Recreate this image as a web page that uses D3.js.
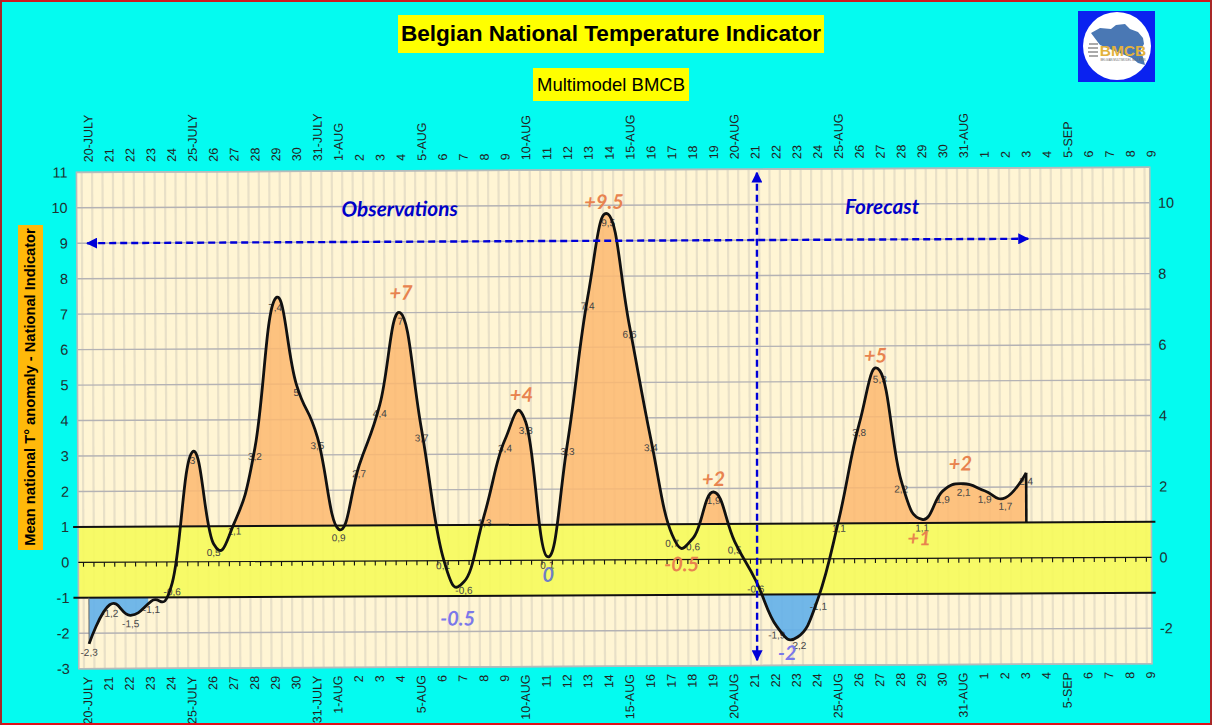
<!DOCTYPE html>
<html>
<head>
<meta charset="utf-8">
<script src="https://cdn.jsdelivr.net/npm/d3@7"></script>
<style>
  html, body { margin: 0; padding: 0; background: #04fbf0; }
  svg { display: block; font-family: "Liberation Sans", Arial, sans-serif; }
</style>
</head>
<body>
<svg id="chart"></svg>
<script>
const dayLabels = ["20-JULY","21","22","23","24","25-JULY","26","27","28","29","30","31-JULY",
  "1-AUG","2","3","4","5-AUG","6","7","8","9","10-AUG","11","12","13","14","15-AUG","16","17","18","19","20-AUG",
  "21","22","23","24","25-AUG","26","27","28","29","30","31-AUG","1","2","3","4","5-SEP","6","7","8","9"];

// daily indicator, 20 July to 3 Sept
const anomaly = [-2.3,-1.2,-1.5,-1.1,-0.6,3.1,0.5,1.1,3.2,7.4,5,3.5,0.9,2.7,4.4,7,3.7,0.1,-0.6,1.3,3.4,3.9,0.1,
  3.3,7.4,9.75,6.6,3.4,0.7,0.6,1.9,0.5,-0.6,-1.9,-2.2,-1.1,1.1,3.8,5.3,2.2,1.1,1.9,2.1,1.9,1.7,2.4];
const pointLabels = ["-2,3","-1,2","-1,5","-1,1","-0,6","3","0,5","1,1","3,2","7,4","5","3,5","0,9","2,7","4,4","7","3,7","0,1","-0,6","1,3","3,4","3,8","0,1",
  "3,3","7,4","9,5","6,6","3,4","0,7","0,6","1,9","0,5","-0,6","-1,9","-2,2","-1,1","1,1","3,8","5,3","2,2","1,1","1,9","2,1","1,9","1,7","2,4"];

const leftTicks = d3.range(-3, 12);
const rightTicks = [-2, 0, 2, 4, 6, 8, 10];

const noteDays = [24.81, 15.05, 20.8, 30, 37.8, 41.85, 39.85, 28.45, 17.69, 22.05, 33.5];
const noteValues = [9.9, 7.36, 4.47, 2.07, 5.53, 2.47, 0.37, -0.33, -1.83, -0.61, -2.85];
const noteTexts = ["+9.5","+7","+4","+2","+5","+2","+1","-0.5","-0.5","0","-2"];
const noteColors = ["#e8834f","#e8834f","#e8834f","#e8834f","#e8834f","#e8834f","#e8834f","#e8834f","#7b78ea","#6f7fc4","#7b78ea"];

const width = 1212;
const height = 725;
const tilt = -0.27; // the whole plot leans slightly

const x = d3.scaleLinear().domain([-0.5, 51]).range([77.6, 1150.9]);
const y = d3.scaleLinear().domain([-3, 11]).range([666.2, 169.8]);

const svg = d3.select("#chart").attr("width", width).attr("height", height);

svg.append("rect").attr("width", width).attr("height", height).attr("fill", "#04fbf0");

const plot = svg.append("g").attr("transform", `rotate(${tilt} 615 415)`);
const defs = svg.append("defs");

// clips for the filled parts
defs.append("clipPath").attr("id", "above")
  .append("rect").attr("x", x(-0.5)).attr("width", x(51) - x(-0.5))
  .attr("y", y(11)).attr("height", y(1) - y(11));
defs.append("clipPath").attr("id", "below")
  .append("rect").attr("x", x(-0.5)).attr("width", x(2.85) - x(-0.5))
  .attr("y", y(-1)).attr("height", y(-3) - y(-1));
defs.append("clipPath").attr("id", "below2")
  .append("rect").attr("x", x(30)).attr("width", x(38) - x(30))
  .attr("y", y(-1)).attr("height", y(-3) - y(-1));

plot.append("rect")
  .attr("x", x(-0.5)).attr("y", y(11))
  .attr("width", x(51) - x(-0.5)).attr("height", y(-3) - y(11))
  .attr("fill", "#fff5d4");

// vertical grid
plot.append("g").selectAll("line")
  .data(d3.range(-0.25, 51, 0.5))
  .join("line")
  .attr("x1", (d) => x(d)).attr("x2", (d) => x(d))
  .attr("y1", y(11)).attr("y2", y(-3))
  .attr("stroke", "#cfc9bb").attr("stroke-opacity", 0.48).attr("stroke-width", 2.2);

// yellow band
plot.append("rect")
  .attr("x", x(-0.5)).attr("y", y(1))
  .attr("width", x(51) - x(-0.5)).attr("height", y(-1) - y(1))
  .attr("fill", "#f6fb58").attr("fill-opacity", 0.88);

// horizontal grid
plot.append("g").selectAll("line")
  .data(leftTicks.filter((d) => d !== 0 && Math.abs(d) !== 1))
  .join("line")
  .attr("x1", x(-0.5)).attr("x2", x(51))
  .attr("y1", (d) => y(d)).attr("y2", (d) => y(d))
  .attr("stroke", "#b4b2b4").attr("stroke-width", 1.4);

plot.append("rect")
  .attr("x", x(-0.5)).attr("y", y(11))
  .attr("width", x(51) - x(-0.5)).attr("height", y(-3) - y(11))
  .attr("fill", "none").attr("stroke", "#b5bcbc").attr("stroke-width", 1.6);

const smooth = d3.curveCardinal.tension(-0.35);

const areaFrom = (base) => d3.area()
  .x((d, i) => x(i)).y0(y(base)).y1((d) => y(d)).curve(smooth);

plot.append("path").datum(anomaly).attr("d", areaFrom(1))
  .attr("clip-path", "url(#above)").attr("fill", "#fdb870").attr("fill-opacity", 0.85);
plot.append("path").datum(anomaly).attr("d", areaFrom(-1))
  .attr("clip-path", "url(#below)").attr("fill", "#62b0ea").attr("fill-opacity", 0.9);
plot.append("path").datum(anomaly).attr("d", areaFrom(-1))
  .attr("clip-path", "url(#below2)").attr("fill", "#62b0ea").attr("fill-opacity", 0.9);

// zero axis with its small ticks
plot.append("line")
  .attr("x1", x(-0.5)).attr("x2", x(51)).attr("y1", y(0)).attr("y2", y(0))
  .attr("stroke", "#111").attr("stroke-width", 1.2);
plot.append("g").selectAll("line")
  .data(d3.range(-0.25, 51, 0.5))
  .join("line")
  .attr("x1", (d) => x(d)).attr("x2", (d) => x(d))
  .attr("y1", y(0)).attr("y2", y(0) + 4.5)
  .attr("stroke", "#111").attr("stroke-width", 1.1);

// value labels sit under the line
plot.append("g").selectAll("text")
  .data(pointLabels)
  .join("text")
  .attr("x", (d, i) => x(i))
  .attr("y", (d, i) => y(anomaly[i]) + 12)
  .attr("text-anchor", "middle")
  .attr("font-size", 10)
  .attr("fill", "#444")
  .text((d) => d);

// limits of the normal range
[1, -1].forEach((v) => {
  plot.append("line")
    .attr("x1", x(-0.5) - 5).attr("x2", x(51) + 4).attr("y1", y(v)).attr("y2", y(v))
    .attr("stroke", "#111").attr("stroke-width", 2);
});

plot.append("line")
  .attr("x1", x(0)).attr("x2", x(0)).attr("y1", y(-1)).attr("y2", y(anomaly[0]))
  .attr("stroke", "#666").attr("stroke-width", 1);
plot.append("line")
  .attr("x1", x(45)).attr("x2", x(45)).attr("y1", y(1)).attr("y2", y(anomaly[45]))
  .attr("stroke", "#111").attr("stroke-width", 2.6);

plot.append("path").datum(anomaly)
  .attr("d", d3.line().x((d, i) => x(i)).y((d) => y(d)).curve(smooth))
  .attr("fill", "none").attr("stroke", "#111").attr("stroke-width", 2.8);

// axes
const dayFormat = (i) => dayLabels[i];
const topAxis = plot.append("g").attr("transform", `translate(0,${y(11)})`)
  .call(d3.axisTop(x).tickValues(d3.range(52)).tickFormat(dayFormat).tickSize(0));
topAxis.select(".domain").remove();
topAxis.selectAll("text")
  .attr("transform", "rotate(-90)")
  .attr("x", 10).attr("y", 1).attr("dy", "0.35em")
  .attr("text-anchor", "start")
  .attr("font-size", 12.5).attr("fill", "#222")
  .attr("font-family", "Liberation Sans");

const bottomAxis = plot.append("g").attr("transform", `translate(0,${y(-3)})`)
  .call(d3.axisBottom(x).tickValues(d3.range(52)).tickFormat(dayFormat).tickSize(0));
bottomAxis.select(".domain").remove();
bottomAxis.selectAll("text")
  .attr("transform", "rotate(-90)")
  .attr("x", -8).attr("y", -2).attr("dy", "0.35em")
  .attr("text-anchor", "end")
  .attr("font-size", 12.5).attr("fill", "#222")
  .attr("font-family", "Liberation Sans");

const leftAxis = plot.append("g").attr("transform", `translate(${x(-0.5)},0)`)
  .call(d3.axisLeft(y).tickValues(leftTicks).tickFormat(String).tickSize(0).tickPadding(9));
leftAxis.select(".domain").remove();
leftAxis.selectAll("text").attr("font-size", 14.5).attr("fill", "#1c3333").attr("font-family", "Liberation Sans");

const rightAxis = plot.append("g").attr("transform", `translate(${x(51)},0)`)
  .call(d3.axisRight(y).tickValues(rightTicks).tickFormat(String).tickSize(0).tickPadding(8));
rightAxis.select(".domain").remove();
rightAxis.selectAll("text").attr("font-size", 14.5).attr("fill", "#1c3333").attr("font-family", "Liberation Sans");

// observation / forecast arrows
defs.append("marker").attr("id", "head").attr("viewBox", "0 0 10 10")
  .attr("refX", 9).attr("refY", 5).attr("markerWidth", 11).attr("markerHeight", 11)
  .attr("markerUnits", "userSpaceOnUse").attr("orient", "auto-start-reverse")
  .append("path").attr("d", "M0,0L10,5L0,10Z").attr("fill", "#0000d8");

plot.append("line")
  .attr("x1", x(0)).attr("x2", x(45.15)).attr("y1", y(9)).attr("y2", y(9))
  .attr("stroke", "#0000d8").attr("stroke-width", 2.4).attr("stroke-dasharray", "7 4")
  .attr("marker-start", "url(#head)").attr("marker-end", "url(#head)");
plot.append("line")
  .attr("x1", x(32.15)).attr("x2", x(32.05)).attr("y1", y(10.9)).attr("y2", y(-2.85))
  .attr("stroke", "#0000d8").attr("stroke-width", 2.4).attr("stroke-dasharray", "7 4")
  .attr("marker-start", "url(#head)").attr("marker-end", "url(#head)");

const noteFont = "Lato, 'Open Sans', sans-serif";
plot.append("text").attr("x", x(15)).attr("y", y(9.72))
  .attr("text-anchor", "middle").attr("font-family", noteFont)
  .attr("font-size", 20.8).attr("font-weight", 700).attr("font-style", "italic")
  .attr("fill", "#0000c8").text("Observations");
plot.append("text").attr("x", x(38.15)).attr("y", y(9.72))
  .attr("text-anchor", "middle").attr("font-family", noteFont)
  .attr("font-size", 20.8).attr("font-weight", 700).attr("font-style", "italic")
  .attr("fill", "#0000c8").text("Forecast");

plot.append("g").selectAll("text")
  .data(noteTexts)
  .join("text")
  .attr("x", (d, i) => x(noteDays[i]))
  .attr("y", (d, i) => y(noteValues[i]))
  .attr("text-anchor", "middle")
  .attr("font-family", noteFont)
  .attr("font-size", 20).attr("font-weight", 700).attr("font-style", "italic")
  .attr("fill", (d, i) => noteColors[i])
  .text((d) => d);

// titles
svg.append("rect").attr("x", 398).attr("y", 15).attr("width", 426).attr("height", 38).attr("fill", "#ffff00");
svg.append("text").attr("x", 611).attr("y", 41).attr("text-anchor", "middle")
  .attr("font-size", 22.6).attr("font-weight", 700).attr("fill", "#000")
  .text("Belgian National Temperature Indicator");
svg.append("rect").attr("x", 533).attr("y", 68).attr("width", 156).attr("height", 33).attr("fill", "#ffff00");
svg.append("text").attr("x", 611).attr("y", 91).attr("text-anchor", "middle")
  .attr("font-size", 18.5).attr("fill", "#000").text("Multimodel BMCB");

// y title
svg.append("rect").attr("x", 18).attr("y", 225).attr("width", 25).attr("height", 325).attr("fill", "#ffb90a");
svg.append("text").attr("transform", "translate(35,387) rotate(-90)").attr("text-anchor", "middle")
  .attr("font-size", 14.7).attr("font-weight", 700).attr("fill", "#000")
  .text("Mean national T° anomaly - National Indicator");

// logo
const logo = svg.append("g").attr("transform", "translate(1078,11)");
logo.append("rect").attr("width", 77).attr("height", 71).attr("fill", "#0a22f0");
logo.append("circle").attr("cx", 39).attr("cy", 35).attr("r", 34).attr("fill", "#fff");
logo.append("path")
  .attr("d", "M13,22L22,17L33,18L38,14L47,13L52,18L60,21L65,27L66,33L62,40L65,46L67,54L60,52L54,47L22,34Z")
  .attr("fill", "#4a78b4");
logo.append("path")
  .attr("d", "M11,33H20M10,37H20M10,41H20M11,45H20")
  .attr("stroke", "#aaa").attr("stroke-width", 2);
logo.append("text").attr("x", 45).attr("y", 45).attr("text-anchor", "middle")
  .attr("font-size", 15.5).attr("font-weight", 700).attr("fill", "#e3b23c").text("BMCB");
logo.append("text").attr("x", 45).attr("y", 50).attr("text-anchor", "middle")
  .attr("font-size", 2.8).attr("fill", "#666").text("BELGIAN MULTIMODEL BULLETIN");

// window frame, top and bottom brighter than the sides
[[0, 1, width, 1, "#d01820"], [0, height - 1, width, height - 1, "#e01018"],
 [1, 0, 1, height, "#a82828"], [width - 1, 0, width - 1, height, "#a82828"]].forEach(([x1, y1, x2, y2, c]) => {
  svg.append("line").attr("x1", x1).attr("y1", y1).attr("x2", x2).attr("y2", y2)
    .attr("stroke", c).attr("stroke-width", 2);
});
</script>
</body>
</html>
